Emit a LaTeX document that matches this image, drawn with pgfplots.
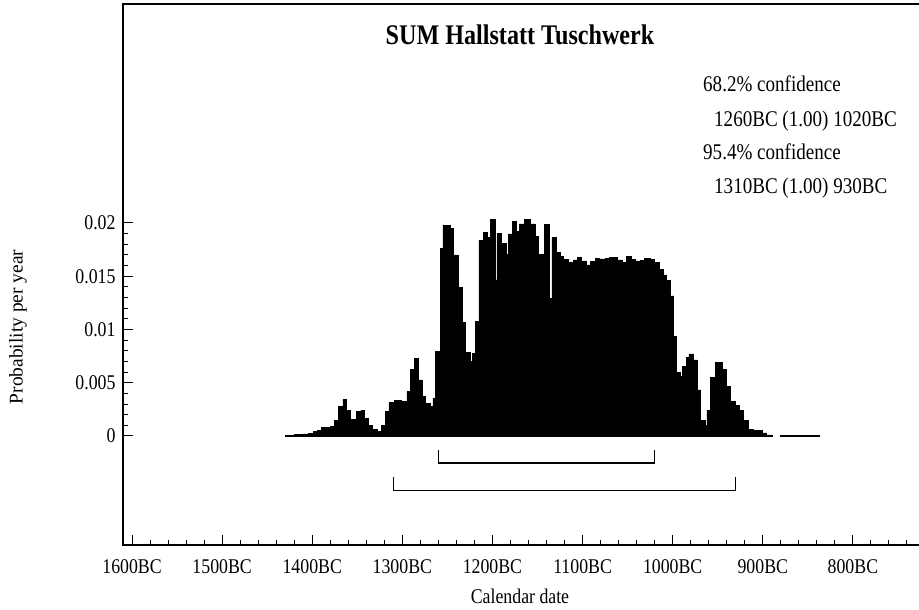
\documentclass[border=0pt]{standalone}
\usepackage{fontspec}
\setmainfont{Liberation Serif}[FakeStretch=0.85]
\newfontfamily\plainserif{Liberation Serif}
\usepackage{pgfplots}
\pgfplotsset{compat=1.18}
\begin{document}
\begin{tikzpicture}
\begin{axis}[
  scale only axis, width=802bp, height=541bp,
  xmin=-1610, xmax=-720, ymin=-0.010235, ymax=0.040563,
  axis line style={line width=1.2bp},
  tick align=inside, xtick pos=bottom, ytick pos=left,
  xtick={-1600,-1500,-1400,-1300,-1200,-1100,-1000,-900,-800},
  xticklabels={1600BC,1500BC,1400BC,1300BC,1200BC,1100BC,1000BC,900BC,800BC},
  minor xtick={-1580,-1560,-1540,-1520,-1480,-1460,-1440,-1420,-1380,-1360,-1340,-1320,-1280,-1260,-1240,-1220,-1180,-1160,-1140,-1120,-1080,-1060,-1040,-1020,-980,-960,-940,-920,-880,-860,-840,-820,-780,-760,-740},
  ytick={0,0.005,0.01,0.015,0.02},
  yticklabels={0,0.005,0.01,0.015,0.02},
  scaled y ticks=false,
  minor ytick={0.001,0.002,0.003,0.004,0.006,0.007,0.008,0.009,0.011,0.012,0.013,0.014,0.016,0.017,0.018,0.019},
  major tick length=10bp, minor tick length=5bp,
  every tick/.style={black, line width=1bp},
  tick label style={font=\fontsize{21}{24}\selectfont},
  xticklabel style={yshift=-11bp},
  yticklabel style={xshift=-4bp},
  clip=false,
]
\addplot[fill=black, draw=black, line width=0.6bp, const plot] coordinates {
(-1430,0.00008) (-1420,0.00012) (-1410,0.0002) (-1404,0.00028) (-1399,0.0004)
(-1394,0.0005) (-1390,0.0008) (-1380,0.0009) (-1375,0.0015) (-1371,0.00275)
(-1366,0.00344) (-1362,0.00244) (-1358,0.00156) (-1351,0.00228) (-1346,0.00244)
(-1342,0.00166) (-1338,0.00103) (-1333,0.00063) (-1328,0.0004) (-1323,0.00103)
(-1319,0.00228) (-1315,0.00313) (-1309,0.00332) (-1301,0.00322) (-1295,0.00416)
(-1291,0.00629) (-1287,0.00729) (-1282,0.00526) (-1278,0.00369) (-1274,0.00307)
(-1269,0.00275) (-1266,0.00354) (-1263,0.00798) (-1258,0.01762) (-1255,0.01981)
(-1247,0.0195) (-1244,0.017) (-1238,0.01393) (-1234,0.01064) (-1230,0.00783)
(-1225,0.00698) (-1222,0.00776) (-1219,0.01073) (-1215,0.0184) (-1210,0.0191)
(-1206,0.01866) (-1202,0.02034) (-1197,0.01465) (-1195,0.01903) (-1190,0.01809)
(-1185,0.01706) (-1182,0.01897) (-1178,0.02013) (-1173,0.01919) (-1170,0.01991)
(-1165,0.02034) (-1158,0.01991) (-1153,0.01872) (-1149,0.01706) (-1142,0.01988)
(-1137,0.01292) (-1134,0.01862) (-1129,0.01722) (-1125,0.01684) (-1121,0.01659)
(-1116,0.01628) (-1110,0.01653) (-1106,0.01675) (-1101,0.01644) (-1096,0.01606)
(-1091,0.01637) (-1086,0.01669) (-1081,0.01662) (-1075,0.01669) (-1070,0.01675)
(-1062,0.01653) (-1056,0.01628) (-1051,0.0169) (-1046,0.01659) (-1041,0.01644)
(-1036,0.01647) (-1031,0.01669) (-1025,0.01659) (-1020,0.01628) (-1015,0.01565)
(-1010,0.01512) (-1007,0.01459) (-1003,0.01315) (-999,0.00933) (-996,0.00595)
(-992,0.00557) (-989,0.00657) (-985,0.00738) (-982,0.0077) (-977,0.00714)
(-973,0.00432) (-969,0.0015) (-964,0.00103) (-962,0.00244) (-958,0.00548)
(-953,0.0069) (-945,0.00626) (-940,0.00469) (-936,0.00328) (-931,0.00291)
(-926,0.00244) (-922,0.00144) (-916,0.00063) (-911,0.0005) (-901,0.0003)
(-896,0.0001) (-890,0)
} \closedcycle;
\addplot[black, line width=1.2bp] coordinates {(-881,0) (-837,0)};
\addplot[black, line width=1.2bp] coordinates {(-1260,-0.0013) (-1260,-0.00254) (-1020,-0.00254) (-1020,-0.0013)};
\addplot[black, line width=1.2bp] coordinates {(-1310,-0.00385) (-1310,-0.00514) (-930,-0.00514) (-930,-0.00385)};
\end{axis}
\node[font=\bfseries\fontsize{28.5}{32}\selectfont, anchor=base] at (397bp,500bp) {SUM Hallstatt Tuschwerk};
\node[font=\fontsize{22.5}{26}\selectfont, anchor=base west, inner sep=0pt] at (580bp,453bp) {68.2\% confidence};
\node[font=\fontsize{22.5}{26}\selectfont, anchor=base west, inner sep=0pt] at (591bp,418bp) {1260BC (1.00) 1020BC};
\node[font=\fontsize{22.5}{26}\selectfont, anchor=base west, inner sep=0pt] at (580bp,385bp) {95.4\% confidence};
\node[font=\fontsize{22.5}{26}\selectfont, anchor=base west, inner sep=0pt] at (591bp,351bp) {1310BC (1.00) 930BC};
\node[font=\fontsize{21}{24}\selectfont] at (397bp,-51bp) {Calendar date};
\node[font=\plainserif\fontsize{19.5}{22}\selectfont, rotate=90] at (-105bp,218bp) {Probability per year};
\pgfresetboundingbox
\path[use as bounding box] (-123bp,-65bp) rectangle (796bp,545bp);
\end{tikzpicture}
\end{document}
